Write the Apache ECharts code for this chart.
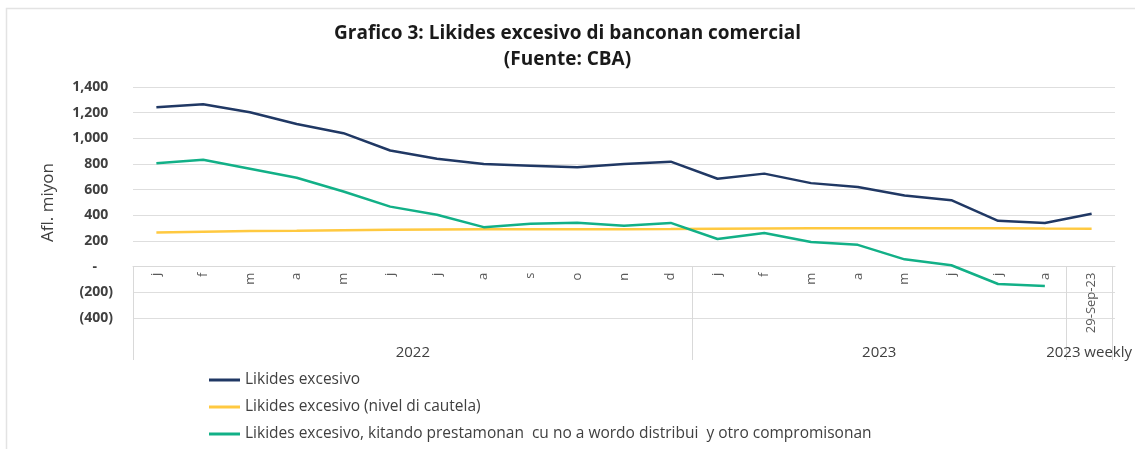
<!DOCTYPE html>
<html>
<head>
<meta charset="utf-8">
<script src="https://cdn.jsdelivr.net/npm/echarts@6/dist/echarts.min.js"></script>
<style>
    html, body { margin: 0; padding: 0; background: #fff; }
    #someChart { width: 1135px; height: 449px; }
</style>
</head>
<body>
<div id="someChart"></div>
<script>
// meses (2022: 12, 2023: 8, weekly: 1)
var months = ['j','f','m','a','m','j','j','a','s','o','n','d',
              'j','f','m','a','m','j','j','a','29-Sep-23'];
// grupo di aña, riba e posicion di categoria
var groupLabels = ['2022', '2023', '2023 weekly'];
var groupCenters = [6, 16, 20.5];
var groupEdges = [0, 12, 20, 21];
var yTicks = [-400, -200, 0, 200, 400, 600, 800, 1000, 1200, 1400];

var likides = [1242, 1266, 1203, 1112, 1040, 905, 841, 800, 787, 774, 800, 818,
               685, 725, 651, 620, 555, 518, 357, 341, 412];
var cautela = [266, 272, 277, 280, 284, 287, 289, 291, 291, 292, 292, 293,
               296, 298, 299, 300, 300, 300, 299, 297, 296];
var kitando = [805, 833, 763, 693, 586, 468, 404, 308, 334, 343, 318, 341,
               216, 263, 193, 170, 57, 11, -135, -150, null];

var seriesNames = ['Likides excesivo',
                   'Likides excesivo (nivel di cautela)',
                   'Likides excesivo, kitando prestamonan  cu no a wordo distribui  y otro compromisonan'];
var colors = ['#203864', '#ffc940', '#12b087'];

var myChart = echarts.init(document.getElementById('someChart'));

// formato di number manera Excel: 1,400 / - / (200)
function fmtY(v) {
    if (v == 0) return '-\u2007\u2007';
    var s = Math.abs(v).toLocaleString('en-US');
    if (v < 0) return '(' + s + ')';
    return s + '\u2009\u2009';
}

// grid 0: 1400 na y=87, -400 na y=318; eje di luna ta pasa na 0
var gridTop = 87, gridBottomY = 318;
var zeroShift = (gridBottomY - gridTop) * (0 - yTicks[0]) / (yTicks[yTicks.length - 1] - yTicks[0]);

var option = {
    animation: false,
    color: colors,
    title: {
        text: 'Grafico 3: Likides excesivo di banconan comercial\n(Fuente: CBA)',
        left: 'center',
        top: 16,
        textStyle: {
            fontFamily: 'Open Sans',
            fontSize: 19,
            fontWeight: 'bold',
            color: '#1a1a1a',
            lineHeight: 26
        }
    },
    legend: {
        orient: 'vertical',
        left: 209,
        top: 372,
        padding: 0,
        icon: 'rect',
        itemWidth: 31,
        itemHeight: 3,
        itemGap: 11,
        data: seriesNames,
        textStyle: {
            fontFamily: 'Open Sans',
            fontSize: 15.5,
            color: '#404040'
        }
    },
    graphic: [{
        type: 'rect',
        shape: { x: 6.5, y: 8.5, width: 1200, height: 500 },
        style: { fill: 'none', stroke: '#e3e3e3', lineWidth: 1.5 },
        silent: true
    }],
    grid: [
        { left: 133, right: 20, top: gridTop, bottom: 449 - gridBottomY },
        { left: 133, right: 20, top: 267, bottom: 104 }
    ],
    xAxis: [
        {
            type: 'category',
            gridIndex: 0,
            data: months,
            boundaryGap: true,
            offset: -zeroShift,
            axisLine: { onZero: false, lineStyle: { color: '#d9d9d9', width: 1 } },
            axisTick: { show: false },
            axisLabel: {
                rotate: 90,
                margin: 6,
                interval: 0,
                fontFamily: 'Open Sans',
                fontSize: 13,
                color: '#595959'
            }
        },
        {
            type: 'value',
            gridIndex: 1,
            position: 'top',
            min: 0,
            max: 21,
            axisLine: { show: false, onZero: false },
            splitLine: { show: false },
            axisLabel: { show: false },
            axisTick: {
                show: true,
                inside: true,
                length: 93,
                customValues: groupEdges,
                lineStyle: { color: '#d9d9d9', width: 1 }
            }
        },
        {
            type: 'value',
            gridIndex: 1,
            position: 'bottom',
            min: 0,
            max: 21,
            axisLine: { show: false, onZero: false },
            splitLine: { show: false },
            axisTick: { show: false },
            axisLabel: {
                customValues: groupCenters,
                margin: 0,
                fontFamily: 'Open Sans',
                fontSize: 15,
                color: '#404040',
                formatter: function (v) {
                    var i = groupCenters.indexOf(v);
                    return i >= 0 ? groupLabels[i] : '';
                }
            }
        }
    ],
    yAxis: [
        {
            type: 'value',
            gridIndex: 0,
            min: yTicks[0],
            max: yTicks[yTicks.length - 1],
            interval: 200,
            name: 'Afl. miyon',
            nameLocation: 'middle',
            nameGap: 76,
            nameTextStyle: {
                fontFamily: 'Open Sans',
                fontSize: 17,
                color: '#404040'
            },
            axisLine: { show: false },
            axisTick: { show: false },
            splitLine: { lineStyle: { color: '#dedede', width: 1 } },
            axisLabel: {
                margin: 20,
                fontFamily: 'Open Sans',
                fontSize: 14,
                fontWeight: 'bold',
                color: '#404040',
                formatter: fmtY
            }
        },
        {
            type: 'value',
            gridIndex: 1,
            show: false
        }
    ],
    series: [
        {
            name: seriesNames[0],
            type: 'line',
            data: likides,
            symbol: 'none',
            lineStyle: { width: 2.5 }
        },
        {
            name: seriesNames[1],
            type: 'line',
            data: cautela,
            symbol: 'none',
            lineStyle: { width: 2.5 }
        },
        {
            name: seriesNames[2],
            type: 'line',
            data: kitando,
            symbol: 'none',
            lineStyle: { width: 2.5 }
        }
    ]
};

myChart.setOption(option);
</script>
</body>
</html>
